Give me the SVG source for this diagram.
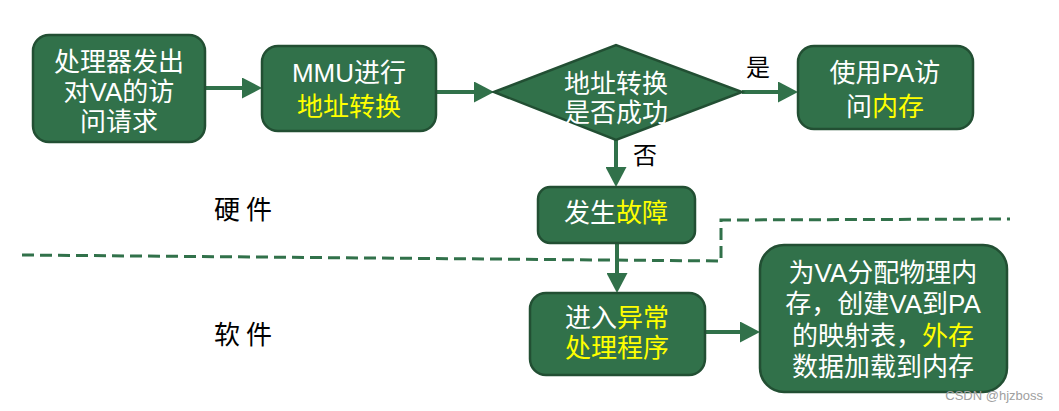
<svg xmlns="http://www.w3.org/2000/svg" width="1059" height="411" viewBox="0 0 1059 411">
<style>
.box{fill:#31714A;stroke:#224F33;stroke-width:2.5}
.t{font-family:"Liberation Sans","Noto Sans CJK SC",sans-serif;font-size:26px;fill:#FFFFFF;text-anchor:middle;dominant-baseline:central}
.y{fill:#FFFF00}
.lbl{font-family:"Liberation Sans","Noto Sans CJK SC",sans-serif;font-size:24px;fill:#000;text-anchor:middle;dominant-baseline:central}
.side{font-family:"Noto Sans CJK SC",serif;font-size:26px;fill:#000;text-anchor:middle;dominant-baseline:central;letter-spacing:6px}
.arr{stroke:#31714A;stroke-width:4;fill:none;marker-end:url(#ah)}
.dash{stroke:#31714A;stroke-width:3;fill:none;stroke-dasharray:12 6}
</style>
<defs>
<marker id="ah" markerUnits="userSpaceOnUse" markerWidth="20" markerHeight="21" refX="4" refY="10.5" orient="auto">
<path d="M0,0 L20,10.5 L0,21 Z" fill="#31714A"/>
</marker>
</defs>
<rect width="1059" height="411" fill="#FFFFFF"/>
<g id="connectors">
<line class="arr" x1="205" y1="88" x2="246" y2="88"/>
<line class="arr" x1="436" y1="92" x2="478" y2="92"/>
<line class="arr" x1="742" y1="92" x2="782" y2="92"/>
<line class="arr" x1="616" y1="140" x2="616" y2="171"/>
<line class="arr" x1="617" y1="243" x2="617" y2="277"/>
<line class="arr" x1="705" y1="332" x2="744" y2="332"/>
<text class="lbl" x="758" y="67">是</text>
<text class="lbl" x="645" y="155">否</text>
</g>
<g id="divider">
<polyline class="dash" points="22,255 721,261 721,220 1010,219"/>
</g>
<g id="label-hw"><text class="side" x="246" y="207">硬件</text></g>
<g id="label-sw"><text class="side" x="246" y="332">软件</text></g>
<g id="n1">
<rect class="box" x="33" y="35" width="172" height="107" rx="16"/>
<text class="t" x="119" y="62">处理器发出</text>
<text class="t" x="119" y="92">对VA的访</text>
<text class="t" x="119" y="122">问请求</text>
</g>
<g id="n2">
<rect class="box" x="262" y="46" width="174" height="85" rx="16"/>
<text class="t" x="349" y="73">MMU进行</text>
<text class="t y" x="349" y="107">地址转换</text>
</g>
<g id="n3">
<polygon class="box" points="494,92 616,45 742,92 616,140"/>
<text class="t" x="616" y="84">地址转换</text>
<text class="t" x="616" y="113">是否成功</text>
</g>
<g id="n4">
<rect class="box" x="798" y="46" width="175" height="83" rx="16"/>
<text class="t" x="885" y="73">使用PA访</text>
<text class="t" x="885" y="107">问<tspan class="y">内存</tspan></text>
</g>
<g id="n5">
<rect class="box" x="538" y="187" width="157" height="56" rx="12"/>
<text class="t" x="616" y="213">发生<tspan class="y">故障</tspan></text>
</g>
<g id="n6">
<rect class="box" x="530" y="293" width="175" height="82" rx="16"/>
<text class="t" x="617" y="318">进入<tspan class="y">异常</tspan></text>
<text class="t y" x="617" y="348">处理程序</text>
</g>
<g id="n7">
<rect class="box" x="760" y="245" width="247" height="147" rx="24"/>
<text class="t" x="883" y="273">为VA分配物理内</text>
<text class="t" x="883" y="304">存，创建VA到PA</text>
<text class="t" x="883" y="336">的映射表，<tspan class="y">外存</tspan></text>
<text class="t" x="883" y="367">数据加载到内存</text>
</g>
<g id="watermark">
<text x="1043" y="395" font-family="Liberation Sans, sans-serif" font-size="13" fill="#A0A0A0" text-anchor="end" dominant-baseline="central">CSDN @hjzboss</text>
</g>
</svg>
